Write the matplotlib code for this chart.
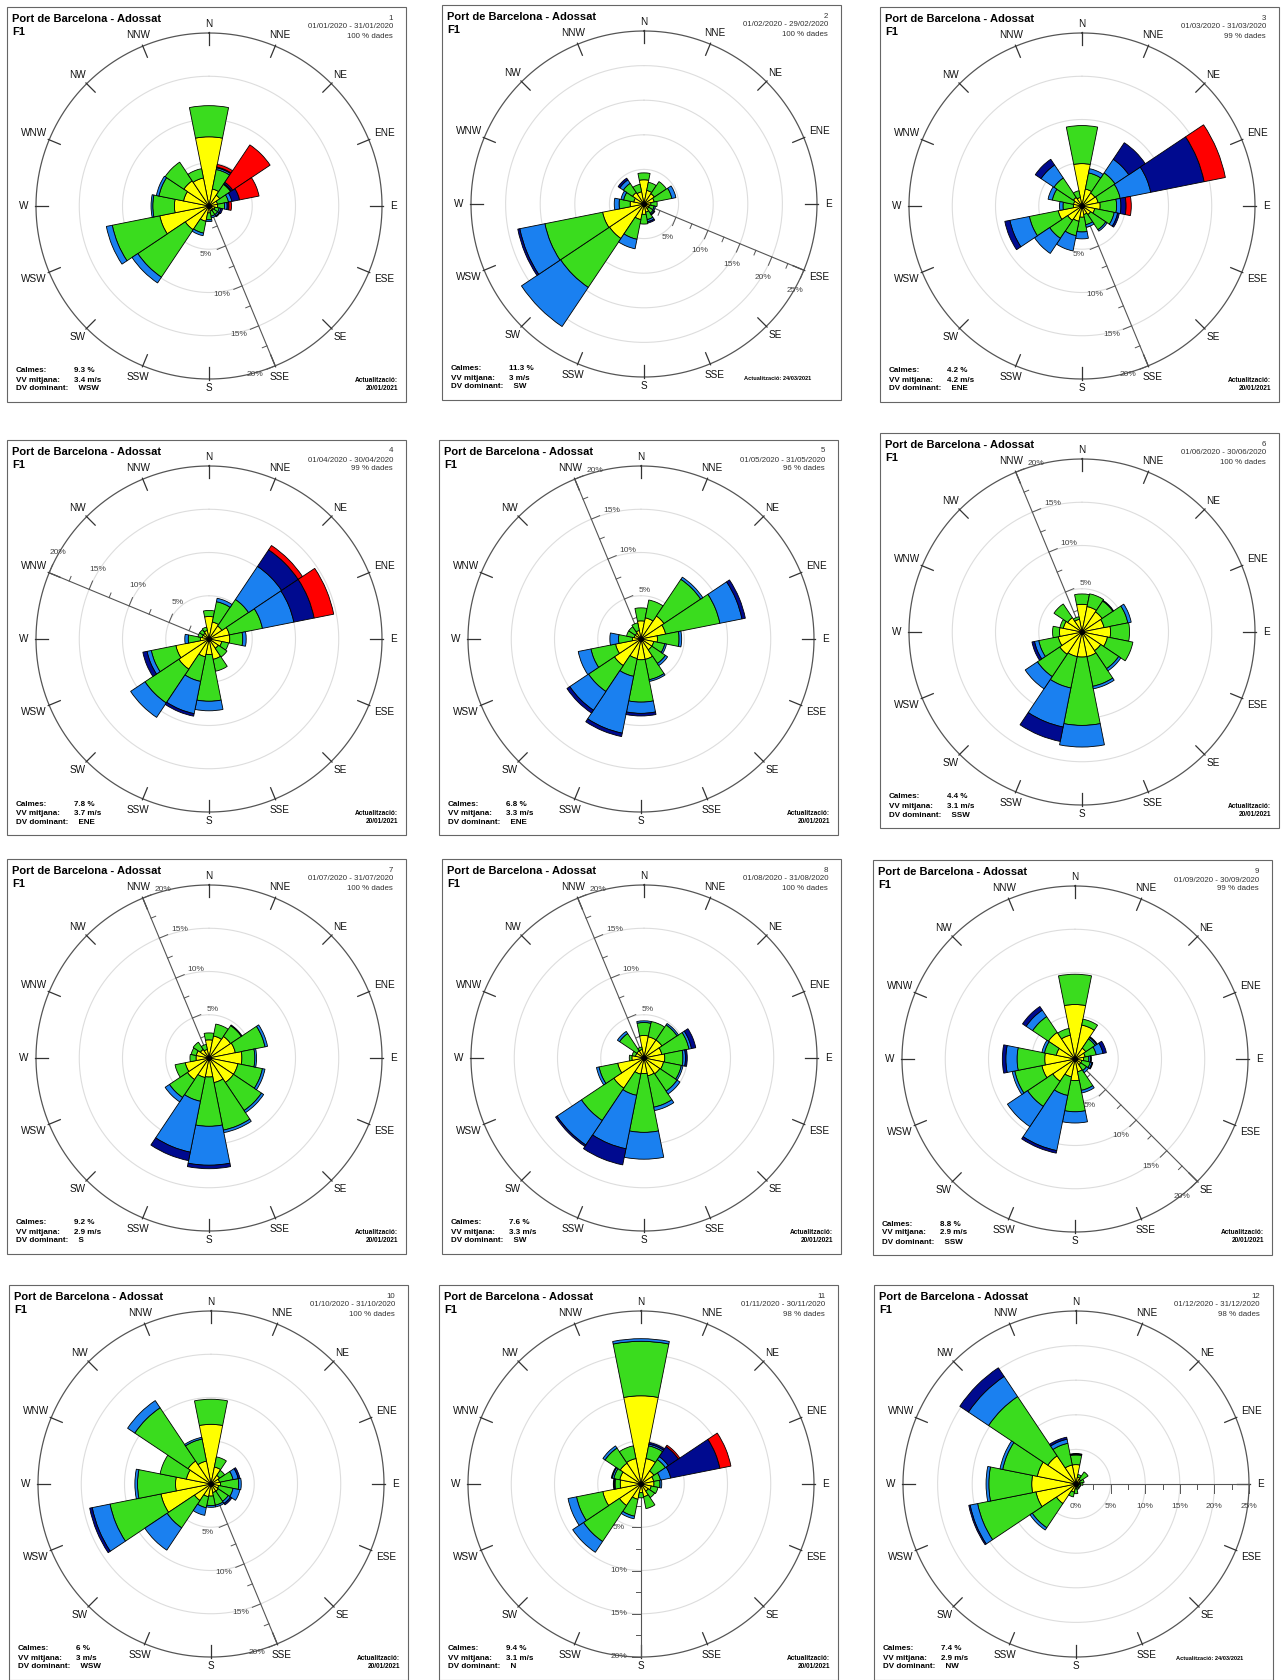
import numpy as np
import matplotlib
matplotlib.use("Agg")
import matplotlib.pyplot as plt
from matplotlib.patches import Rectangle

plt.rcParams['font.family'] = ['Liberation Sans', 'DejaVu Sans']

W, H = 1288, 1680
R = 173  # radi del cercle exterior en px

dirs = ["N", "NNE", "NE", "ENE", "E", "ESE", "SE", "SSE",
        "S", "SSW", "SW", "WSW", "W", "WNW", "NW", "NNW"]
speed_colors = ["#FFFF00", "#3ADC1E", "#1A80F0", "#000A8F", "#FF0000"]

# % acumulat al final de cada classe de velocitat, per direcció (N en sentit horari)
jan = [[8.0, 11.6], [2.0, 4.3, 4.5, 4.6, 4.9], [1.5, 3.0, 3.1, 3.3, 8.5], [1.0, 2.3, 2.7, 3.6, 5.9],
       [1.0, 1.8, 2.1, 2.3, 2.6], [0.7, 1.2, 1.4, 1.6], [0.6, 1.2, 1.4, 1.5], [0.6, 1.2, 1.4],
       [0.8, 1.6, 1.8], [1.8, 3.2, 3.5], [3.3, 9.9, 10.7], [5.8, 11.4, 12.1],
       [4.0, 6.5, 6.7], [3.0, 5.9, 6.2], [3.5, 6.1], [3.3, 4.4]]
feb = [[3.5, 4.5], [2.0, 3.2], [1.8, 3.9], [1.5, 4.1, 4.7],
       [1.0, 1.9], [0.8, 1.5, 1.7], [0.8, 1.6, 1.8, 1.9], [1.2, 2.3, 2.6, 2.8],
       [1.5, 2.9], [2.3, 5.2, 6.6], [6.0, 14.5, 21.3], [6.1, 14.6, 18.3, 18.6],
       [2.0, 3.6, 4.3], [1.5, 3.0, 3.4], [2.0, 3.6, 4.2, 4.5], [1.8, 2.9]]
mar = [[4.9, 9.3], [2.0, 3.9, 4.4], [1.8, 4.6, 6.5, 8.8], [1.9, 4.5, 8.1, 14.4, 16.9],
       [2.1, 4.0, 4.5, 5.1, 5.7], [1.5, 3.8, 4.2, 4.4], [1.2, 3.3, 3.5], [1.0, 2.2, 2.5],
       [1.3, 3.0, 3.8], [1.8, 3.5, 5.3], [2.0, 4.5, 6.6], [2.8, 6.2, 8.5, 9.1],
       [1.0, 2.2, 2.6], [1.0, 3.5, 4.0], [1.2, 3.9, 5.7, 6.5], [1.0, 1.8]]
apr = [[2.6, 3.3], [2.0, 4.4, 4.8], [1.8, 5.5, 10.1, 12.4, 13.0], [2.4, 6.3, 10.0, 12.4, 14.7],
       [2.4, 3.9, 4.3], [1.5, 2.3], [1.3, 2.5], [2.4, 3.8],
       [1.8, 7.2, 8.3], [2.1, 5.0, 8.8, 9.1], [4.2, 8.9, 10.9], [3.9, 6.8, 7.3, 7.8],
       [1.0, 2.4, 2.8], [0.8, 1.3], [0.8, 1.3], [1.0, 1.4]]
may = [[2.1, 3.6], [2.5, 4.6], [3.2, 8.3, 8.6], [2.9, 9.3, 11.9, 12.3],
       [1.9, 4.4, 4.7], [1.5, 2.8, 3.0], [1.5, 3.4, 3.7], [2.4, 4.8, 5.0],
       [2.4, 7.3, 8.6, 8.9], [2.3, 4.4, 11.1, 11.5], [3.7, 7.3, 9.9, 10.3], [3.0, 5.9, 7.4],
       [1.0, 2.6, 3.6], [0.8, 1.7], [0.8, 1.7], [1.0, 1.9]]
jun = [[3.2, 4.4], [3.0, 4.5], [2.8, 4.3, 4.4], [2.6, 5.4, 5.8],
       [3.3, 5.5], [3.0, 6.0], [2.6, 5.1, 5.4], [2.9, 6.4, 6.7],
       [2.9, 10.8, 13.3], [2.9, 6.6, 11.2, 12.9], [3.1, 6.2, 7.9], [2.8, 5.1, 5.6, 5.9],
       [2.6, 3.4], [2.2, 2.6], [2.0, 3.9], [1.5, 1.8]]
jul = [[2.1, 2.9], [2.6, 4.0], [3.0, 4.5, 4.6], [3.1, 6.6, 6.9],
       [3.8, 5.3, 5.5], [3.4, 6.3, 6.6], [3.4, 7.3, 7.6], [2.9, 8.5, 8.8],
       [2.2, 7.9, 12.4, 12.8], [2.3, 5.1, 11.1, 12.1], [3.0, 5.5, 6.1], [2.8, 4.0],
       [1.5, 2.2], [1.5, 2.1], [1.2, 2.2], [1.0, 1.6]]
aug = [[2.6, 4.1, 4.3], [2.5, 4.3], [2.5, 4.6, 4.8], [2.1, 5.3, 5.6, 6.1],
       [2.4, 4.5, 4.8, 5.0], [2.3, 4.4, 4.6], [2.2, 4.6, 5.0], [2.1, 5.8, 6.2],
       [1.8, 8.6, 11.7], [1.9, 4.4, 10.7, 12.6], [4.2, 8.7, 12.1, 12.3], [3.1, 5.3, 5.6],
       [1.4, 1.7], [1.0, 1.4], [1.0, 3.4, 3.7], [1.0, 1.3]]
sep = [[6.3, 9.8], [4.0, 4.7], [1.5, 2.8, 3.0, 3.1], [1.2, 2.5, 3.3, 3.7],
       [1.0, 1.6, 1.8, 1.9], [0.8, 1.8, 2.0, 2.1], [0.8, 1.6, 1.9], [1.5, 3.7, 4.0],
       [2.5, 6.1, 7.4], [2.1, 4.3, 10.8, 11.1], [3.1, 6.6, 9.4], [3.9, 7.1, 7.4],
       [3.5, 6.7, 8.0, 8.4], [2.2, 3.6, 3.9], [3.7, 5.9, 6.8, 7.3], [2.8, 3.6]]
oct_ = [[6.9, 9.8], [2.0, 3.2], [1.2, 1.9], [1.0, 2.6, 3.2, 3.4],
        [1.1, 3.2, 3.5], [0.9, 2.6, 3.4], [1.0, 2.4, 2.7, 2.9], [1.0, 2.5, 2.7],
        [1.4, 2.5, 2.7], [1.5, 2.8, 3.7], [2.3, 6.1, 9.2], [5.9, 11.9, 14.0, 14.3],
        [4.1, 8.5, 8.8], [2.9, 6.0], [3.2, 10.6, 11.6], [2.7, 5.3, 5.5]]
nov = [[10.2, 16.5, 16.8], [3.0, 4.5, 4.7, 4.9], [1.8, 3.4, 3.8, 5.2, 5.4], [1.5, 2.3, 3.5, 9.3, 10.6],
       [1.5, 2.2, 2.4], [1.2, 2.0], [1.0, 1.9], [1.5, 2.9],
       [1.0, 1.6], [1.8, 3.8, 4.1], [3.0, 8.0, 9.5], [4.5, 7.6, 8.6],
       [2.4, 3.0, 3.1, 3.2], [2.5, 3.2, 3.4, 3.5], [2.9, 5.0, 5.3], [3.0, 4.5]]
dec = [[2.8, 4.2, 4.3, 4.4], [1.0, 1.4], [0.8, 2.1], [0.6, 1.2],
       [0.6, 1.0], [0.4, 0.7], [0.4, 0.7], [0.5, 0.8],
       [0.7, 1.4], [1.2, 1.9], [3.4, 7.6, 8.0], [5.9, 14.5, 15.6, 15.8],
       [6.4, 12.6, 13.0], [5.7, 10.8, 11.2], [4.9, 15.2, 18.7, 20.2], [2.8, 6.0, 6.6, 6.9]]
months = [jan, feb, mar, apr, may, jun, jul, aug, sep, oct_, nov, dec]

periods = ["01/01/2020 - 31/01/2020", "01/02/2020 - 29/02/2020", "01/03/2020 - 31/03/2020",
           "01/04/2020 - 30/04/2020", "01/05/2020 - 31/05/2020", "01/06/2020 - 30/06/2020",
           "01/07/2020 - 31/07/2020", "01/08/2020 - 31/08/2020", "01/09/2020 - 30/09/2020",
           "01/10/2020 - 31/10/2020", "01/11/2020 - 30/11/2020", "01/12/2020 - 31/12/2020"]
dades = [100, 100, 99, 99, 96, 100, 100, 100, 99, 100, 98, 98]
calmes = ["9.3", "11.3", "4.2", "7.8", "6.8", "4.4", "9.2", "7.6", "8.8", "6", "9.4", "7.4"]
vv_mitjana = ["3.4", "3", "4.2", "3.7", "3.3", "3.1", "2.9", "3.3", "2.9", "3", "3.1", "2.9"]
dv_dominant = ["WSW", "SW", "ENE", "ENE", "ENE", "SSW", "S", "SW", "SSW", "WSW", "N", "NW"]
actualitzacio = ["20/01/2021", "24/03/2021", "20/01/2021", "20/01/2021", "20/01/2021", "20/01/2021",
                 "20/01/2021", "20/01/2021", "20/01/2021", "20/01/2021", "20/01/2021", "24/03/2021"]
r_axis_dir = [157.5, 112.5, 157.5, 292.5, 337.5, 337.5, 337.5, 337.5, 135, 157.5, 180, 90]
r_max = [20, 25, 20, 20, 20, 20, 20, 20, 20, 20, 20, 25]

# posició dels centres dels cercles (px)
centers = [(209, 206), (644, 204), (1082, 206),
           (209, 639), (641, 639), (1082, 632),
           (209, 1058), (644, 1058), (1075, 1059),
           (211, 1484), (641, 1484), (1076, 1484)]


def fxy(x, y):
    return x / W, 1 - y / H


def offset_pt(r, th, d, phi):
    # punt a radi r sobre th, desplaçat d cap a phi (en unitats de dades)
    x = r * np.sin(th) + d * np.sin(phi)
    y = r * np.cos(th) + d * np.cos(phi)
    return np.arctan2(x, y), np.hypot(x, y)


fig = plt.figure(figsize=(12.88, 16.8), dpi=100)
theta = np.deg2rad(np.arange(16) * 22.5)
circ = np.linspace(0, 2 * np.pi, 400)

for k in range(12):
    cx, cy = centers[k]
    rmax = r_max[k]
    s = rmax / R  # dades per px

    # marc
    fig.add_artist(Rectangle(fxy(cx - 202, cy + 196), 399 / W, 395 / H, transform=fig.transFigure,
                             fill=False, edgecolor='#666666', linewidth=0.8))

    ax = fig.add_axes([(cx - R) / W, 1 - (cy + R) / H, 2 * R / W, 2 * R / H], projection='polar')
    ax.set_theta_zero_location('N')
    ax.set_theta_direction(-1)
    ax.axis('off')
    ax.set_ylim(0, rmax)

    # cercles
    for rr in range(5, rmax, 5):
        ax.plot(circ, np.full_like(circ, rr), color='#dddddd', lw=0.8, zorder=1)
    ax.plot(circ, np.full_like(circ, rmax), color='#555555', lw=0.9, zorder=2, clip_on=False)

    # marques i etiquetes de direcció
    for i, d in enumerate(dirs):
        ax.plot([theta[i], theta[i]], [rmax - 12 * s, rmax + 1 * s], color='#333333', lw=0.9,
                zorder=2, clip_on=False)
        w = len(d) * 7
        rl = rmax + (9 + 0.4 * w * abs(np.sin(theta[i]))) * s
        ax.text(theta[i], rl, d, ha='center', va='center', fontsize=7.2, color='#111111')

    # eix radial
    th0 = np.deg2rad(r_axis_dir[k])
    side = th0 + np.pi / 2
    ax.plot([th0, th0], [0, rmax], color='#555555', lw=0.8, zorder=2)
    start = 0 if k == 11 else 2.5
    for v in np.arange(start, rmax + 0.01, 2.5):
        major = abs(v % 5) < 1e-6
        L = (9 if major else 5) * s
        a = offset_pt(v, th0, 0, side)
        b = offset_pt(v, th0, L, side)
        ax.plot([a[0], b[0]], [a[1], b[1]], color='#555555', lw=0.7, zorder=2, clip_on=False)
        if major:
            t = offset_pt(v, th0, 22 * s, side)
            ax.text(t[0], t[1], f"{int(v)}%", ha='center', va='center', fontsize=6, color='#444444')

    # barres apilades
    cum = np.array([row + [row[-1]] * (5 - len(row)) for row in months[k]])
    bottoms = np.hstack([np.zeros((16, 1)), cum[:, :-1]])
    for c in range(5):
        h = cum[:, c] - bottoms[:, c]
        m = h > 0
        ax.bar(theta[m], h[m], width=np.deg2rad(22.5), bottom=bottoms[m, c],
               color=speed_colors[c], edgecolor='black', linewidth=0.6, zorder=3)
    ax.scatter([0], [0], s=6, color='black', zorder=5)

    # textos
    fig.text(*fxy(cx - 197, cy - 187), "Port de Barcelona - Adossat", fontsize=8, fontweight='bold',
             ha='left', va='center')
    fig.text(*fxy(cx - 197, cy - 174), "F1", fontsize=8, fontweight='bold', ha='left', va='center')
    fig.text(*fxy(cx + 184, cy - 188), str(k + 1), fontsize=5.7, ha='right', va='center', color='#333333')
    fig.text(*fxy(cx + 184, cy - 179), periods[k], fontsize=5.7, ha='right', va='center', color='#333333')
    fig.text(*fxy(cx + 184, cy - 170), f"{dades[k]} % dades", fontsize=5.7, ha='right', va='center',
             color='#333333')
    rows = [("Calmes:", f"{calmes[k]} %"), ("VV mitjana:", f"{vv_mitjana[k]} m/s"),
            ("DV dominant:", f"  {dv_dominant[k]}")]
    for j, (lab, val) in enumerate(rows):
        fig.text(*fxy(cx - 193, cy + 165 + 9 * j), lab, fontsize=5.8, fontweight='bold', ha='left', va='center')
        fig.text(*fxy(cx - 135, cy + 165 + 9 * j), val, fontsize=5.8, fontweight='bold', ha='left', va='center')
    if actualitzacio[k] == "24/03/2021":
        fig.text(*fxy(cx + 167, cy + 174), f"Actualització: {actualitzacio[k]}", fontsize=4.1,
                 fontweight='bold', ha='right', va='center')
    else:
        fig.text(*fxy(cx + 189, cy + 174), "Actualització:", fontsize=4.7, fontweight='bold',
                 ha='right', va='center')
        fig.text(*fxy(cx + 189, cy + 182), actualitzacio[k], fontsize=4.7, fontweight='bold',
                 ha='right', va='center')

fig.savefig("out.png", dpi=100, facecolor='white')
